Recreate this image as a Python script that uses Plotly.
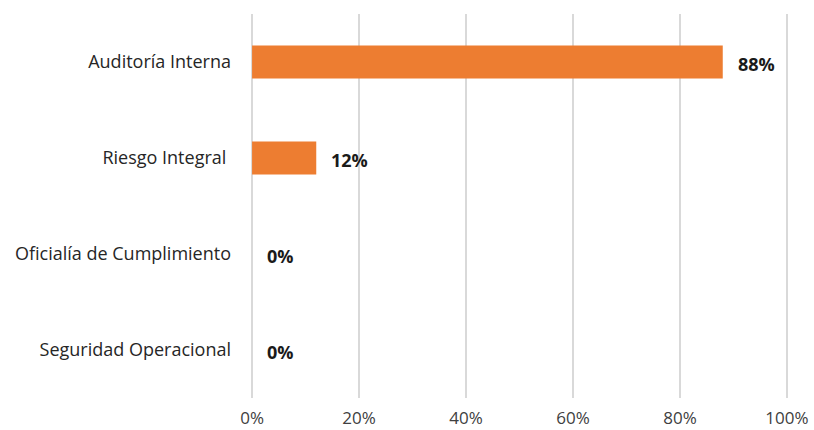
import plotly.graph_objects as go

categories = ["Auditoría Interna", "Riesgo Integral ", "Oficialía de Cumplimiento", "Seguridad Operacional"]
values = [0.88, 0.12, 0.0, 0.0]
tick_vals = [0, 0.2, 0.4, 0.6, 0.8, 1.0]
tick_text = ["0%", "20%", "40%", "60%", "80%", "100%"]

FONT = "'Open Sans', sans-serif"

fig = go.Figure()
fig.add_trace(go.Bar(
    x=values,
    y=categories,
    orientation="h",
    marker=dict(color="#ED7D31", line=dict(width=0)),
    hoverinfo="skip",
))

for cat, v in zip(categories, values):
    fig.add_annotation(
        x=v, y=cat, text=f"<b>{round(v * 100)}%</b>",
        showarrow=False, xanchor="left", xshift=13, yshift=-2,
        font=dict(family=FONT, size=18, color="#1a1a1a"),
    )

fig.update_layout(
    width=814, height=430,
    margin=dict(l=251, r=26, t=14, b=32),
    paper_bgcolor="white", plot_bgcolor="white",
    bargap=0.656,
    showlegend=False,
    font=dict(family=FONT, size=18, color="#404040"),
    xaxis=dict(
        range=[-0.002, 1.002], tickvals=tick_vals, ticktext=tick_text,
        showgrid=True, gridcolor="#d9d9d9", gridwidth=1.5,
        zeroline=False, showline=False, ticks="",
        ticklabelstandoff=8, automargin=False,
        tickfont=dict(size=17, color="#404040"),
    ),
    yaxis=dict(
        categoryorder="array", categoryarray=categories,
        autorange="reversed", showgrid=False, zeroline=False,
        showline=False, ticks="", ticklabelstandoff=19, automargin=False,
        tickfont=dict(size=18, color="#262626"),
    ),
)

fig.write_html("out.html")
